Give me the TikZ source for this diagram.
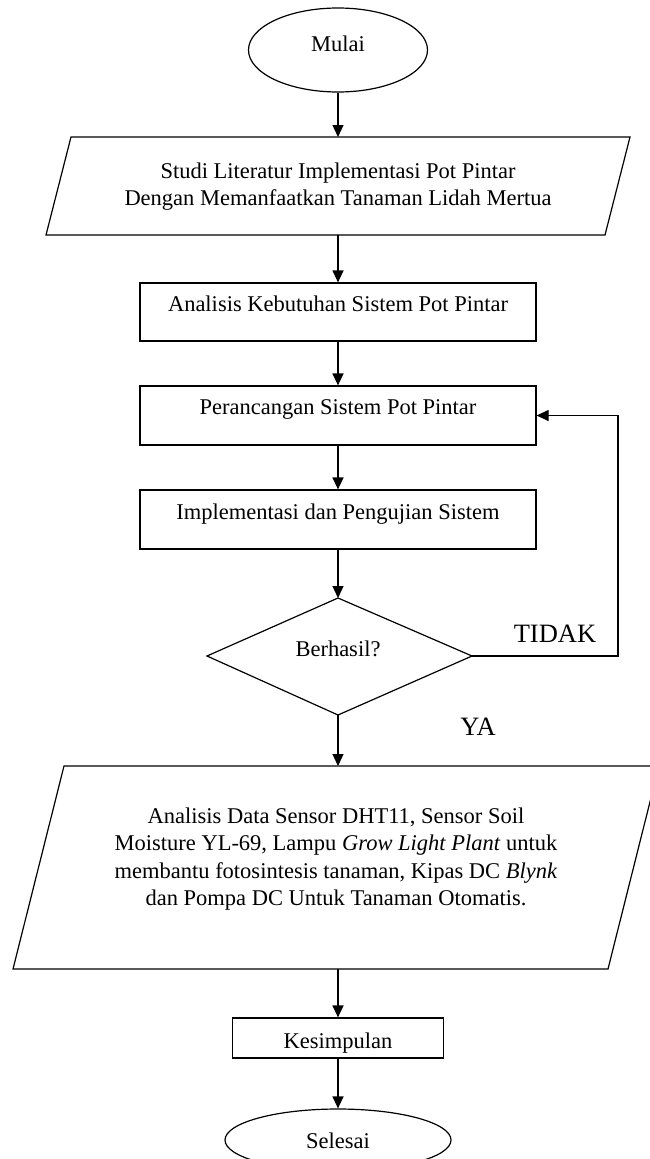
\documentclass[tikz,border=0pt]{standalone}
\usepackage{fontspec}
\setmainfont{Liberation Serif}
\usetikzlibrary{shapes.geometric,arrows.meta}
\begin{document}
\begin{tikzpicture}[x=1pt,y=-1pt,
  line width=1.2pt,
  lbl/.style={inner sep=0pt, anchor=base, font=\fontsize{22.5}{27}\selectfont},
  big/.style={inner sep=0pt, anchor=base, font=\fontsize{26.5}{30}\selectfont},
  boxn/.style={draw, rectangle, inner sep=0pt, minimum width=396pt, minimum height=59pt},
  ell/.style={draw, ellipse, inner sep=0pt},
  arr/.style={-{Triangle[length=12pt,width=11pt]}}]
\useasboundingbox (0,0) rectangle (649,1159);
\fill[white] (0,0) rectangle (649,1159);

% start
\node[ell, minimum width=179pt, minimum height=84pt] (mulai) at (338,50) {};
\node[lbl] (tmulai) at (338,51) {Mulai};

% parallelogram 1
\coordinate (p1n) at (338,137);
\coordinate (p1s) at (338,235);
\draw (71,137) -- (630,137) -- (605,235) -- (46,235) -- cycle;
\node[lbl] (t1a) at (338,178) {Studi Literatur Implementasi Pot Pintar};
\node[lbl] (t1b) at (338,205) {Dengan Memanfaatkan Tanaman Lidah Mertua};

% boxes
\node[boxn, minimum height=58pt] (b2) at (338,312) {};
\node[lbl] (t2) at (338,311) {Analisis Kebutuhan Sistem Pot Pintar};
\node[boxn] (b3) at (338,415.5) {};
\node[lbl] (t3) at (338,414) {Perancangan Sistem Pot Pintar};
\node[boxn] (b4) at (338,519.5) {};
\node[lbl] (t4) at (338,519) {Implementasi dan Pengujian Sistem};

% decision
\coordinate (dN) at (338,598);
\coordinate (dS) at (338,715);
\coordinate (dE) at (472,656);
\coordinate (dW) at (207,656);
\draw (dN) -- (dE) -- (dS) -- (dW) -- cycle;
\node[lbl] (td) at (338,656) {Berhasil?};
\node[big] (tidak) at (555,642) {TIDAK};
\node[big] (ya) at (478,735) {YA};
\coordinate (fb) at (618,656);

% parallelogram 2
\coordinate (p2n) at (338,766);
\coordinate (p2s) at (338,969);
\draw (64,766) -- (659,766) -- (608,969) -- (13,969) -- cycle;
\node[lbl] (t5a) at (336,823) {Analisis Data Sensor DHT11, Sensor Soil};
\node[lbl] (t5b) at (336,850) {Moisture YL-69, Lampu \textit{Grow Light Plant} untuk};
\node[lbl] (t5c) at (336,878) {membantu fotosintesis tanaman, Kipas DC \textit{Blynk}};
\node[lbl] (t5d) at (336,905) {dan Pompa DC Untuk Tanaman Otomatis.};

% conclusion
\node[draw, rectangle, inner sep=0pt, minimum width=211pt, minimum height=40pt] (b6) at (338,1038) {};
\node[lbl] (t6) at (338,1048) {Kesimpulan};

% end
\node[ell, minimum width=226pt, minimum height=62pt] (selesai) at (338,1140) {};
\node[lbl] (t7) at (338,1148) {Selesai};

% connectors
\draw[arr] (mulai.south) -- (p1n);
\draw[arr] (p1s) -- (b2.north);
\draw[arr] (b2.south) -- (b3.north);
\draw[arr] (b3.south) -- (b4.north);
\draw[arr] (b4.south) -- (dN);
\draw[arr] (dS) -- (p2n);
\draw[arr] (p2s) -- (b6.north);
\draw[arr] (b6.south) -- (selesai.north);
\draw[arr] (dE) -- (fb) |- (b3.east);
\end{tikzpicture}
\end{document}
